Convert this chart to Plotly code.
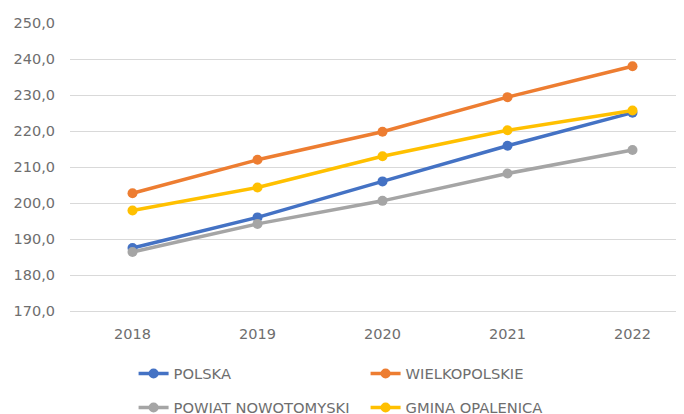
import plotly.graph_objects as go

years = [2018, 2019, 2020, 2021, 2022]
polska = [187.5, 196.0, 206.0, 215.9, 225.1]
wielkopolskie = [202.7, 212.0, 219.8, 229.4, 238.0]
powiat = [186.4, 194.2, 200.6, 208.2, 214.7]
gmina = [197.9, 204.3, 213.0, 220.2, 225.7]

series = [
    ("POLSKA", polska, "#4472C4", "legend"),
    ("WIELKOPOLSKIE", wielkopolskie, "#ED7D31", "legend"),
    ("POWIAT NOWOTOMYSKI", powiat, "#A5A5A5", "legend2"),
    ("GMINA OPALENICA", gmina, "#FFC000", "legend2"),
]

FONT = "DejaVu Sans"
TXT = "#6E6E6E"

fig = go.Figure()
for name, vals, col, lg in series:
    fig.add_trace(go.Scatter(
        x=years, y=vals, name=name, mode="lines+markers",
        line=dict(color=col, width=3.5),
        marker=dict(color=col, size=10),
        legend=lg,
    ))

leg_common = dict(
    orientation="h", xanchor="left", yanchor="middle",
    xref="container", yref="container",
    entrywidth=187, entrywidthmode="pixels",
    font=dict(family=FONT, size=14.7, color=TXT),
    bgcolor="rgba(0,0,0,0)", itemwidth=30,
)

# page body has an 8px margin, so figure coords = screen coords - 8
fig.update_layout(
    width=684, height=414,
    margin=dict(l=62, r=0, t=14.7, b=111.3, autoexpand=False),
    paper_bgcolor="white", plot_bgcolor="white",
    separators=", ",
    font=dict(family=FONT, size=14.5, color=TXT),
    legend=dict(x=0.1836, y=1 - 366 / 414, **leg_common),
    legend2=dict(x=0.1836, y=1 - 400 / 414, **leg_common),
    showlegend=True,
)
fig.update_xaxes(
    range=[2017.5, 2022.476], tickvals=years, ticktext=[str(y) for y in years],
    showgrid=False, zeroline=False, showline=True, linecolor="#D9D9D9", linewidth=1,
    ticks="", ticklabelstandoff=10,
    tickfont=dict(family=FONT, size=14.5, color=TXT),
)
fig.update_yaxes(
    range=[170, 250], dtick=10, tickformat=".1f",
    showgrid=True, gridcolor="#D9D9D9", gridwidth=1,
    zeroline=False, showline=False, ticks="", ticklabelstandoff=14,
    tickfont=dict(family=FONT, size=14.5, color=TXT),
)

fig.write_html("out.html")
